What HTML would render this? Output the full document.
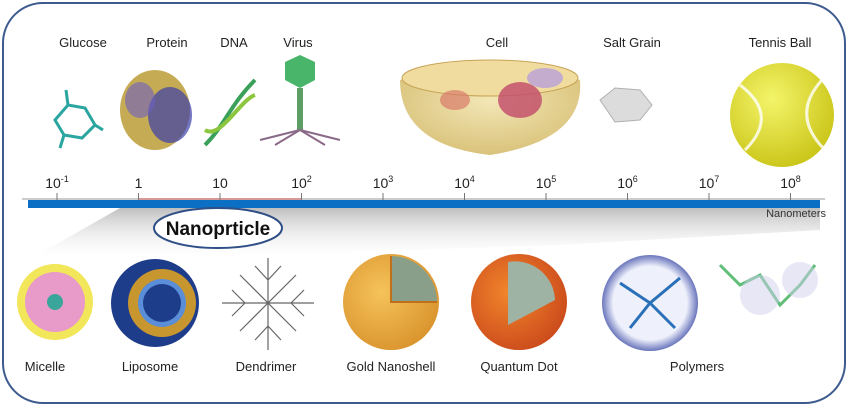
<!DOCTYPE html>
<html><head><meta charset="utf-8"><style>
body{margin:0;background:#fff;}
svg{display:block;font-family:"Liberation Sans",sans-serif;}
</style></head><body>
<svg width="850" height="408" viewBox="0 0 850 408">
<defs>
<linearGradient id="wedge" x1="0" y1="0" x2="0" y2="1"><stop offset="0" stop-color="#bfbfbf"/><stop offset="1" stop-color="#ffffff" stop-opacity="0"/></linearGradient>
<radialGradient id="ball" cx="0.4" cy="0.35" r="0.7"><stop offset="0" stop-color="#f4f46a"/><stop offset="1" stop-color="#c9c416"/></radialGradient>
<radialGradient id="gold" cx="0.4" cy="0.4" r="0.7"><stop offset="0" stop-color="#f5c35a"/><stop offset="1" stop-color="#d8902a"/></radialGradient>
<radialGradient id="qd" cx="0.4" cy="0.4" r="0.7"><stop offset="0" stop-color="#f2862c"/><stop offset="1" stop-color="#c8461a"/></radialGradient>
<radialGradient id="poly" cx="0.5" cy="0.5" r="0.55"><stop offset="0.7" stop-color="#eef0fb"/><stop offset="1" stop-color="#3040a0"/></radialGradient>
<radialGradient id="cell" cx="0.5" cy="0.4" r="0.6"><stop offset="0" stop-color="#f3e7b6"/><stop offset="1" stop-color="#d9c27a"/></radialGradient>
</defs>
<rect x="3" y="3" width="842" height="400" rx="40" fill="#fff" stroke="#3d5b8e" stroke-width="2"/>
<g font-size="13" fill="#222" text-anchor="middle">
<text x="83" y="47">Glucose</text>
<text x="167" y="47">Protein</text>
<text x="234" y="47">DNA</text>
<text x="298" y="47">Virus</text>
<text x="497" y="47">Cell</text>
<text x="632" y="47">Salt Grain</text>
<text x="780" y="47">Tennis Ball</text>
</g>
<g stroke="#2aa5a0" stroke-width="3" fill="none"><path d="M55 120 L68 105 L85 108 L95 125 L82 138 L64 135 Z"/><path d="M68 105 L66 90 M95 125 L103 130 M64 135 L60 148"/></g>
<g><ellipse cx="155" cy="110" rx="35" ry="40" fill="#b8962a" opacity="0.8"/><ellipse cx="170" cy="115" rx="22" ry="28" fill="#3b3ea8" opacity="0.7"/><ellipse cx="140" cy="100" rx="15" ry="18" fill="#6c5fc0" opacity="0.6"/></g>
<g stroke-width="4" fill="none"><path d="M205 145 C225 125 230 105 255 80" stroke="#3aa05a"/><path d="M205 130 C220 140 240 100 255 95" stroke="#8cc63f"/></g>
<g><polygon points="285,62 300,55 315,62 315,80 300,88 285,80" fill="#49b56b"/><rect x="297" y="88" width="6" height="42" fill="#5c9e65"/><path d="M300 130 L260 140 M300 130 L275 145 M300 130 L325 145 M300 130 L340 140" stroke="#8b6a88" stroke-width="2"/></g>
<g><path d="M400 80 Q490 50 580 80 Q585 140 490 155 Q400 145 400 80 Z" fill="url(#cell)"/><ellipse cx="490" cy="78" rx="88" ry="18" fill="#f1dca0" stroke="#c7a456"/><ellipse cx="520" cy="100" rx="22" ry="18" fill="#c24a6a" opacity="0.8"/><ellipse cx="455" cy="100" rx="15" ry="10" fill="#d97a6a" opacity="0.7"/><ellipse cx="545" cy="78" rx="18" ry="10" fill="#b8a0d8" opacity="0.8"/></g>
<g><polygon points="600,100 615,88 640,90 652,105 640,120 615,122" fill="#dcdcdc" stroke="#b0b0b0"/></g>
<circle cx="782" cy="115" r="52" fill="url(#ball)"/>
<path d="M740 85 Q780 115 745 150 M822 80 Q790 115 825 150" stroke="#fff" stroke-width="3" fill="none" opacity="0.8"/>
<polygon points="120,208 820,208 820,230 560,245 25,262" fill="url(#wedge)"/>
<line x1="22" y1="199" x2="825" y2="199" stroke="#999" stroke-width="1"/>
<rect x="28" y="200" width="792" height="8" fill="#0b6fc4"/>
<line x1="138" y1="199" x2="301" y2="199" stroke="#b03030" stroke-width="1"/>
<g id="ticks"></g>
<text x="826" y="217" font-size="11" fill="#333" text-anchor="end">Nanometers</text>
<ellipse cx="218" cy="228" rx="64" ry="20" fill="#fff" stroke="#2f4f86" stroke-width="2"/>
<text x="218" y="235" font-size="19" font-weight="bold" fill="#111" text-anchor="middle">Nanoprticle</text>
<g><circle cx="55" cy="302" r="38" fill="#f2e65a"/><circle cx="55" cy="302" r="30" fill="#e89ac8"/><circle cx="55" cy="302" r="8" fill="#3aa59a"/></g>
<g><circle cx="155" cy="303" r="44" fill="#1d3c8a"/><circle cx="162" cy="303" r="34" fill="#c8962e"/><circle cx="162" cy="303" r="24" fill="#5a8ed8"/><circle cx="162" cy="303" r="19" fill="#1d3c8a"/></g>
<g stroke="#666" stroke-width="1.2" fill="none"><path d="M268 258 L268 350 M222 303 L314 303 M240 275 L296 331 M296 275 L240 331 M268 280 L255 266 M268 280 L281 266 M245 303 L232 290 M245 303 L232 316 M291 303 L304 290 M291 303 L304 316 M268 326 L255 340 M268 326 L281 340"/></g>
<g><circle cx="391" cy="302" r="48" fill="url(#gold)"/><path d="M391 256 A46 46 0 0 1 437 302 L391 302 Z" fill="#8a9f8a"/><path d="M391 256 L391 302 L437 302" stroke="#c0701a" stroke-width="2" fill="none"/></g>
<g><circle cx="519" cy="302" r="48" fill="url(#qd)"/><path d="M508 262 A40 40 0 0 1 555 300 L508 325 Z" fill="#9fb3a5"/></g>
<g><circle cx="650" cy="303" r="48" fill="url(#poly)"/><path d="M620 283 L650 303 L680 278 M630 328 L650 303 L675 328" stroke="#2a70b8" stroke-width="3" fill="none"/></g>
<g stroke="#4fb86a" stroke-width="3" fill="none" opacity="0.9"><path d="M720 265 L740 285 L760 275 L780 305 L800 285 L815 265"/><circle cx="760" cy="295" r="20" fill="#c9c9ec" stroke="none" opacity="0.5"/><circle cx="800" cy="280" r="18" fill="#c9c9ec" stroke="none" opacity="0.5"/></g>
<g font-size="13" fill="#222" text-anchor="middle">
<text x="45" y="371">Micelle</text>
<text x="150" y="371">Liposome</text>
<text x="266" y="371">Dendrimer</text>
<text x="391" y="371">Gold Nanoshell</text>
<text x="519" y="371">Quantum Dot</text>
<text x="697" y="371">Polymers</text>
</g>
</svg>
<script>
const tickExponents = [-1,0,1,2,3,4,5,6,7,8];
const tickBases = ["10","1","10","10","10","10","10","10","10","10"];
const tickSups = ["-1","","","2","3","4","5","6","7","8"];
const ns = "http://www.w3.org/2000/svg";
function xScale(e){ return 57 + (e + 1) * 81.5; }
const g = document.getElementById('ticks');
tickExponents.forEach((e, i) => {
  const x = xScale(e);
  const ln = document.createElementNS(ns, 'line');
  ln.setAttribute('x1', x); ln.setAttribute('x2', x);
  ln.setAttribute('y1', 193); ln.setAttribute('y2', 200);
  ln.setAttribute('stroke', '#777');
  
  
  g.appendChild(ln);
  const t = document.createElementNS(ns, 'text');
  t.setAttribute('x', x); t.setAttribute('y', 188);
  t.setAttribute('font-size', '14'); t.setAttribute('fill', '#222');
  t.setAttribute('text-anchor', 'middle');
  
  
  t.textContent = tickBases[i];
  if (tickSups[i]) {
    const s = document.createElementNS(ns, 'tspan');
    s.setAttribute('font-size', '9'); s.setAttribute('dy', '-6');
    s.textContent = tickSups[i];
    t.appendChild(s);
  }
  g.appendChild(t);
});
</script>
</body></html>
